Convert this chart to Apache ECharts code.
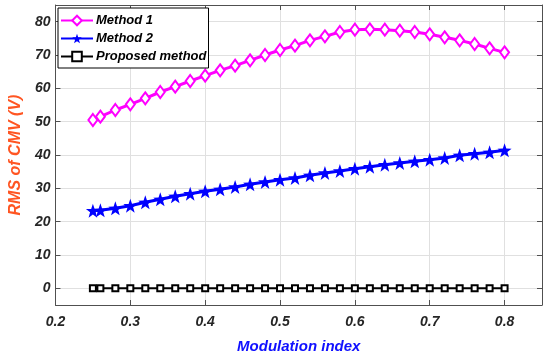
<!DOCTYPE html>
<html>
<head>
<meta charset="utf-8">
<script src="https://cdn.jsdelivr.net/npm/echarts@6/dist/echarts.min.js"></script>
<style>html,body{margin:0;padding:0;background:#fff}#c{width:550px;height:359px}</style>
</head>
<body>
<div id="c"></div>
<script>
const xValues = [0.25,0.26,0.28,0.30,0.32,0.34,0.36,0.38,0.40,0.42,0.44,0.46,0.48,0.50,0.52,0.54,0.56,0.58,0.60,0.62,0.64,0.66,0.68,0.70,0.72,0.74,0.76,0.78,0.80];
const method1 = [50.5,51.5,53.5,55.2,57.0,58.9,60.5,62.2,63.8,65.4,66.8,68.4,70.0,71.5,72.8,74.4,75.6,76.9,77.6,77.7,77.6,77.3,76.9,76.2,75.3,74.4,73.3,72.0,70.8];
const method2 = [23.3,23.4,24.0,24.8,25.8,26.7,27.6,28.4,29.1,29.7,30.4,31.2,31.9,32.6,33.1,33.9,34.6,35.2,35.9,36.5,37.1,37.6,38.1,38.6,39.1,39.9,40.4,40.8,41.4];
const proposed = [0,0,0,0,0,0,0,0,0,0,0,0,0,0,0,0,0,0,0,0,0,0,0,0,0,0,0,0,0];
const xTicks = [0.2,0.3,0.4,0.5,0.6,0.7,0.8];
const yTicks = [0,10,20,30,40,50,60,70,80];
const seriesNames = ['Method 1','Method 2','Proposed method'];
const xName = 'Modulation index';
const yName = 'RMS of CMV (V)';

const pair = (ys) => xValues.map((x, i) => [x, ys[i]]);
const star = 'path://M0,-10L2.35,-3.24L9.51,-3.09L3.8,1.24L5.88,8.09L0,4L-5.88,8.09L-3.8,1.24L-9.51,-3.09L-2.35,-3.24Z';
const FONT = 'Liberation Sans, Arial, sans-serif';
const axisCol = '#505050';

const chart = echarts.init(document.getElementById('c'), null, {renderer: 'canvas'});
const baseX = {
  type: 'value', min: 0.2, max: 0.85,
  axisLine: {show: true, onZero: false, lineStyle: {color: axisCol, width: 1}},
  axisTick: {show: true, inside: true, length: 5, customValues: xTicks, lineStyle: {color: axisCol}},
};
const baseY = {
  type: 'value', min: -5, max: 85,
  axisLine: {show: true, onZero: false, lineStyle: {color: axisCol, width: 1}},
  axisTick: {show: true, inside: true, length: 5, customValues: yTicks, lineStyle: {color: axisCol}},
};
chart.setOption({
  animation: false,
  backgroundColor: '#fff',
  grid: {left: 53, right: 8, top: 5, bottom: 54, containLabel: false},
  legend: {
    orient: 'vertical', left: 58, top: 8,
    data: seriesNames,
    itemWidth: 32, itemHeight: 12, itemGap: 5,
    padding: [6, 2, 5, 2],
    borderColor: '#000', borderWidth: 1, backgroundColor: '#fff',
    textStyle: {fontFamily: FONT, fontSize: 13, fontWeight: 'bold', fontStyle: 'italic', color: '#000', padding: [0,0,0,-2]}
  },
  xAxis: [
    Object.assign({}, baseX, {
      position: 'bottom',
      name: xName, nameLocation: 'middle', nameGap: 34,
      nameTextStyle: {fontFamily: FONT, fontSize: 15, fontWeight: 'bold', fontStyle: 'italic', color: '#1010ff'},
      axisLabel: {show: true, customValues: xTicks, margin: 10, fontFamily: FONT, fontSize: 14, fontWeight: 'bold', fontStyle: 'italic', color: '#262626',
        formatter: (v) => v.toFixed(1)},
      splitLine: {show: true, lineStyle: {color: '#e0e0e0', width: 1}}
    }),
    Object.assign({}, baseX, {position: 'top', axisLabel: {show: false}, splitLine: {show: false}})
  ],
  yAxis: [
    Object.assign({}, baseY, {
      position: 'left',
      name: yName, nameLocation: 'middle', nameGap: 25,
      nameTextStyle: {fontFamily: FONT, fontSize: 16, fontWeight: 'bold', fontStyle: 'italic', color: '#ff5522'},
      axisLabel: {show: true, customValues: yTicks, margin: 5, fontFamily: FONT, fontSize: 14, fontWeight: 'bold', fontStyle: 'italic', color: '#262626'},
      splitLine: {show: true, lineStyle: {color: '#e0e0e0', width: 1}}
    }),
    Object.assign({}, baseY, {position: 'right', axisLabel: {show: false}, splitLine: {show: false}})
  ],
  series: [
    {
      name: seriesNames[0], type: 'line', data: pair(method1),
      symbol: 'emptyDiamond', symbolSize: [9, 12], showAllSymbol: true,
      lineStyle: {color: '#ff00ff', width: 3},
      itemStyle: {color: '#ff00ff', borderColor: '#ff00ff', borderWidth: 2.2},
      z: 3
    },
    {
      name: seriesNames[1], type: 'line', data: pair(method2),
      symbol: star, symbolSize: [14, 14], showAllSymbol: true,
      lineStyle: {color: '#0000ff', width: 3},
      itemStyle: {color: '#0000ff', borderColor: '#0000ff', borderWidth: 0},
      z: 3
    },
    {
      name: seriesNames[2], type: 'line', data: pair(proposed),
      symbol: 'emptyRect', symbolSize: 6, showAllSymbol: true,
      lineStyle: {color: '#000', width: 2},
      itemStyle: {color: '#000', borderColor: '#000', borderWidth: 1.5},
      z: 3
    }
  ]
});
</script>
</body>
</html>
